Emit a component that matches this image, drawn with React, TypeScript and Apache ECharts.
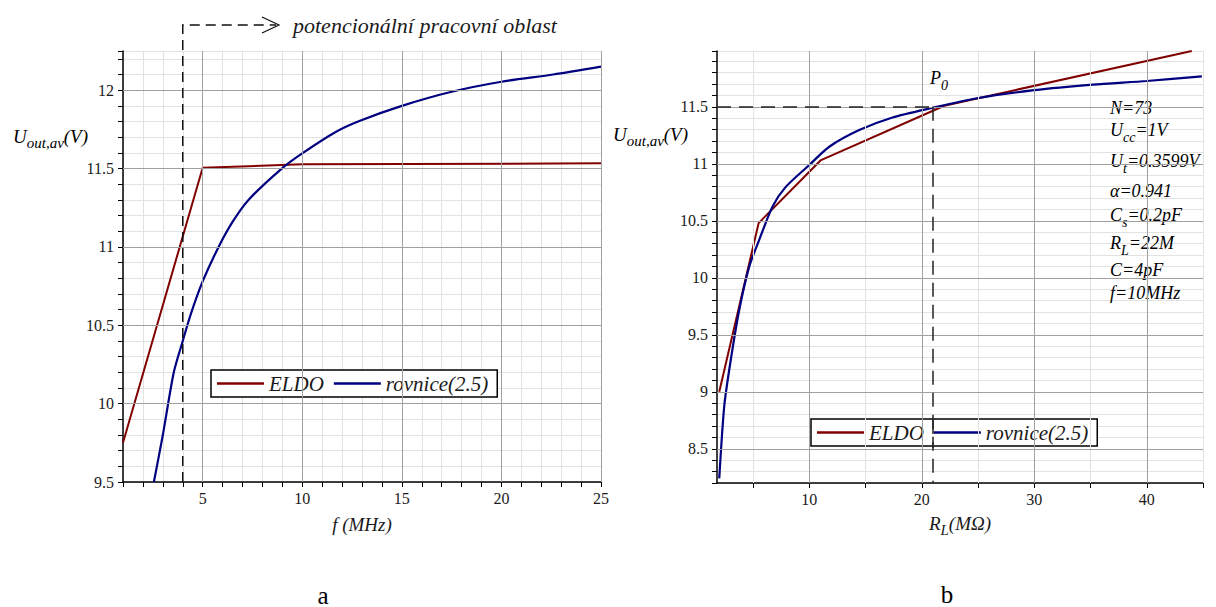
import React, { useEffect, useRef } from 'react';
import * as echarts from 'echarts';

const SERIF = '"Liberation Serif", "Times New Roman", serif';
const INK = '#1a1a1a';
const RED = '#800000';
const BLUE = '#000080';
const LIGHT = '#e2e2e2';
const DARK = '#a0a0a0';

// ---- chart a: U_out,av vs f (MHz)
const freqELDO = [1, 5, 10, 25];
const uFreqELDO = [9.75, 11.505, 11.527, 11.533];
const freqEq = [2.55, 3.0, 3.55, 4.0, 4.4, 5.0, 5.8, 6.5, 7.3, 8.97, 10, 11.7, 12.9, 15, 17.5, 20, 22.6, 25];
const uFreqEq = [9.5, 9.8, 10.2, 10.4, 10.57, 10.78, 11.0, 11.16, 11.3, 11.5, 11.597, 11.735, 11.805, 11.9, 11.99, 12.054, 12.1, 12.15];
const freqMajor = [5, 10, 15, 20, 25];
const uMajorA = [10, 10.5, 11, 11.5, 12];
const freqLimit = 4;

// ---- chart b: U_out,av vs R_L (MOhm)
const rlELDO = [2, 5.5, 11, 22, 44];
const uRlELDO = [9.0, 10.48, 11.03, 11.51, 11.99];
const rlEq = [2.0, 2.45, 3.04, 3.78, 4.67, 5.56, 6.74, 7.93, 10, 11.78, 14.44, 17.4, 20.9, 24.8, 30, 35.2, 40, 44.9];
const uRlEq = [8.24, 8.88, 9.29, 9.72, 10.1, 10.335, 10.626, 10.8, 10.99, 11.15, 11.296, 11.407, 11.49, 11.573, 11.646, 11.695, 11.727, 11.768];
const rlTicks = [5, 10, 15, 20, 25, 30, 35, 40, 45];
const rlMajor = [10, 20, 30, 40];
const rlMinor = [5, 15, 25, 35, 45];
const uMajorB = [8.5, 9, 9.5, 10, 10.5, 11, 11.5];
const P0 = [21, 11.5];

const legendNames = ['ELDO', 'rovnice(2.5)'];
const paramLines = [
  '{m|N=73}',
  '{m|U}{s|cc}{m|=1V}',
  '{m|U}{s|t}{m|=0.3599V}',
  '{m|α=0.941}',
  '{m|C}{s|s}{m|=0.2pF}',
  '{m|R}{s|L}{m|=22M}',
  '{m|C=4pF}',
  '{m|f=10MHz}',
];
const paramCenters = [110, 132, 163, 193, 217, 245, 272, 295];

const zip = (xs: number[], ys: number[]) => xs.map((x, i) => [x, ys[i]]);

const halfFmt = (v: number) => {
  const r = Math.round(v * 2) / 2;
  return Math.abs(v - r) < 1e-6 ? String(r) : '';
};
const fiveFmt = (v: number) => (Math.abs(v / 5 - Math.round(v / 5)) < 1e-6 ? String(Math.round(v)) : '');

const richMain = (size: number, drop: number) => ({
  m: { fontFamily: SERIF, fontStyle: 'italic', fontSize: size, lineHeight: 22, verticalAlign: 'top', color: INK },
  s: { fontFamily: SERIF, fontStyle: 'italic', fontSize: size - 4, verticalAlign: 'top', padding: [drop, 0, 0, 0], color: INK },
});

const tickLabel = { fontFamily: SERIF, fontSize: 16, color: INK };

export default function App() {
  const ref = useRef<HTMLDivElement>(null);
  useEffect(() => {
    if (!ref.current) return;
    const chart = echarts.init(ref.current, null, { renderer: 'svg' });
    const legendCommon = {
      data: legendNames,
      orient: 'horizontal',
      icon: 'rect',
      itemWidth: 47,
      itemHeight: 2.5,
      itemGap: 10,
      padding: [3, 9, 3, 6],
      borderColor: '#000',
      borderWidth: 1.5,
      borderRadius: 0,
      backgroundColor: '#fff',
      selectedMode: false,
      textStyle: { fontFamily: SERIF, fontStyle: 'italic', fontSize: 21, color: INK },
    };
    const option: any = {
      animation: false,
      backgroundColor: '#fff',
      grid: [
        { left: 123, top: 51, width: 478, height: 431, containLabel: false },
        { left: 717, top: 51, width: 486, height: 432, containLabel: false },
      ],
      legend: [
        { ...legendCommon, left: 211, top: 370 },
        { ...legendCommon, left: 811, top: 419 },
      ],
      xAxis: [
        {
          gridIndex: 0, type: 'value', min: 1, max: 25, interval: 1,
          axisLine: { show: true, onZero: false, lineStyle: { color: '#000', width: 1.5 } },
          axisTick: { show: true, length: 5, lineStyle: { color: '#000' } },
          axisLabel: { ...tickLabel, formatter: fiveFmt, margin: 8 },
          splitLine: { show: true, lineStyle: { color: LIGHT, width: 1 } },
          name: 'f (MHz)', nameLocation: 'middle', nameGap: 33,
          nameTextStyle: { fontFamily: SERIF, fontStyle: 'italic', fontSize: 19, color: INK },
        },
        {
          gridIndex: 1, type: 'value', min: 1.8, max: 45,
          axisLine: { show: true, onZero: false, lineStyle: { color: '#000', width: 1.5 } },
          axisTick: { show: true, length: 5, lineStyle: { color: '#000' }, customValues: rlTicks },
          axisLabel: { ...tickLabel, margin: 8, customValues: rlMajor },
          splitLine: { show: false },
          name: '{m|R}{s|L}{m|(MΩ)}', nameLocation: 'middle', nameGap: 31,
          nameTextStyle: { rich: richMain(19, 8) },
        },
      ],
      yAxis: [
        {
          gridIndex: 0, type: 'value', min: 9.5, max: 12.25, interval: 0.1,
          axisLine: { show: true, onZero: false, lineStyle: { color: '#000', width: 1.5 } },
          axisTick: { show: true, length: 5, lineStyle: { color: '#000' } },
          axisLabel: { ...tickLabel, formatter: halfFmt, margin: 9 },
          splitLine: { show: true, lineStyle: { color: LIGHT, width: 1 } },
        },
        {
          gridIndex: 1, type: 'value', min: 8.2, max: 11.99, interval: 0.1,
          axisLine: { show: true, onZero: false, lineStyle: { color: '#000', width: 1.5 } },
          axisTick: { show: true, length: 5, lineStyle: { color: '#000' } },
          axisLabel: { ...tickLabel, formatter: halfFmt, margin: 9 },
          splitLine: { show: true, lineStyle: { color: LIGHT, width: 1 } },
        },
      ],
      series: [
        {
          type: 'line', name: 'gridA', xAxisIndex: 0, yAxisIndex: 0, data: [], z: 1, silent: true,
          markLine: {
            silent: true, symbol: ['none', 'none'], label: { show: false }, emphasis: { disabled: true },
            lineStyle: { color: DARK, width: 1, type: 'solid' },
            data: [...freqMajor.map((v) => ({ xAxis: v })), ...uMajorA.map((v) => ({ yAxis: v }))],
          },
        },
        {
          type: 'line', name: 'gridB', xAxisIndex: 1, yAxisIndex: 1, data: [], z: 1, silent: true,
          markLine: {
            silent: true, symbol: ['none', 'none'], label: { show: false }, emphasis: { disabled: true },
            lineStyle: { color: DARK, width: 1, type: 'solid' },
            data: [
              ...rlMinor.map((v) => ({ xAxis: v, lineStyle: { color: LIGHT, width: 1, type: 'solid' } })),
              ...rlMajor.map((v) => ({ xAxis: v })),
              ...uMajorB.map((v) => ({ yAxis: v })),
            ],
          },
        },
        {
          type: 'line', name: 'P0lines', xAxisIndex: 1, yAxisIndex: 1, data: [], z: 2, silent: true,
          markLine: {
            silent: true, symbol: ['none', 'none'], label: { show: false }, emphasis: { disabled: true },
            lineStyle: { color: '#222', width: 1.5, type: [14, 8] },
            data: [
              [{ coord: [1.8, P0[1]] }, { coord: [P0[0], P0[1]] }],
              [{ coord: [P0[0], P0[1]] }, { coord: [P0[0], 8.2] }],
            ],
          },
        },
        {
          type: 'line', name: 'ELDO', xAxisIndex: 0, yAxisIndex: 0, data: zip(freqELDO, uFreqELDO), z: 3,
          showSymbol: false, lineStyle: { color: RED, width: 2 }, itemStyle: { color: RED },
        },
        {
          type: 'line', name: 'rovnice(2.5)', xAxisIndex: 0, yAxisIndex: 0, data: zip(freqEq, uFreqEq), z: 4,
          showSymbol: false, smooth: 0.25,
          lineStyle: { color: BLUE, width: 2.2 }, itemStyle: { color: BLUE },
        },
        {
          type: 'line', name: 'ELDO', xAxisIndex: 1, yAxisIndex: 1, data: zip(rlELDO, uRlELDO), z: 3,
          showSymbol: false, lineStyle: { color: RED, width: 2 }, itemStyle: { color: RED },
        },
        {
          type: 'line', name: 'rovnice(2.5)', xAxisIndex: 1, yAxisIndex: 1, data: zip(rlEq, uRlEq), z: 4,
          showSymbol: false, smooth: 0.25,
          lineStyle: { color: BLUE, width: 2.2 }, itemStyle: { color: BLUE },
        },
      ],
    };
    chart.setOption(option);

    const [lx, ly] = chart.convertToPixel({ gridIndex: 0 }, [freqLimit, 9.5]) as number[];
    const [px] = chart.convertToPixel({ gridIndex: 1 }, P0) as number[];
    const rich19 = richMain(19, 8);
    const rich18 = richMain(18, 9);
    const graphic: any[] = [
      {
        type: 'polyline', silent: true, z: 10,
        shape: { points: [[lx, ly], [lx, 25], [276, 25]] },
        style: { stroke: '#111', lineWidth: 1.5, lineDash: [10, 6], fill: null },
      },
      {
        type: 'polyline', silent: true, z: 10,
        shape: { points: [[262, 17], [279, 25], [262, 33]] },
        style: { stroke: '#111', lineWidth: 1.2, fill: null },
      },
      {
        type: 'text', x: 293, y: 25, silent: true,
        style: { text: 'potencionální pracovní oblast', fontFamily: SERIF, fontStyle: 'italic', fontSize: 22, fill: INK, verticalAlign: 'middle', align: 'left' },
      },
      {
        type: 'line', silent: true, z: 100,
        shape: { x1: px, y1: 420, x2: px, y2: 448 },
        style: { stroke: '#222', lineWidth: 1.5, lineDash: [14, 8] },
      },
      {
        type: 'text', x: 13, y: 127, silent: true,
        style: { text: '{m|U}{s|out,av}{m|(V)}', rich: rich19, verticalAlign: 'top', align: 'left' },
      },
      {
        type: 'text', x: 613, y: 125, silent: true,
        style: { text: '{m|U}{s|out,av}{m|(V)}', rich: rich19, verticalAlign: 'top', align: 'left' },
      },
      {
        type: 'text', x: 930, y: 69, silent: true,
        style: { text: '{m|P}{s|0}', rich: rich18, verticalAlign: 'top', align: 'left' },
      },
      ...paramLines.map((t, i) => ({
        type: 'text', x: 1110, y: paramCenters[i] - 11, silent: true,
        style: { text: t, rich: rich18, verticalAlign: 'top', align: 'left' },
      })),
      {
        type: 'text', x: 323, y: 595, silent: true,
        style: { text: 'a', fontFamily: SERIF, fontSize: 25, lineHeight: 20, fill: '#000', verticalAlign: 'middle', align: 'center' },
      },
      {
        type: 'text', x: 947, y: 594, silent: true,
        style: { text: 'b', fontFamily: SERIF, fontSize: 25, lineHeight: 20, fill: '#000', verticalAlign: 'middle', align: 'center' },
      },
    ];
    chart.setOption({ graphic });
    return () => chart.dispose();
  }, []);
  return <div ref={ref} style={{ position: 'fixed', left: 0, top: 0, width: 1216, height: 607, background: '#fff' }} />;
}
